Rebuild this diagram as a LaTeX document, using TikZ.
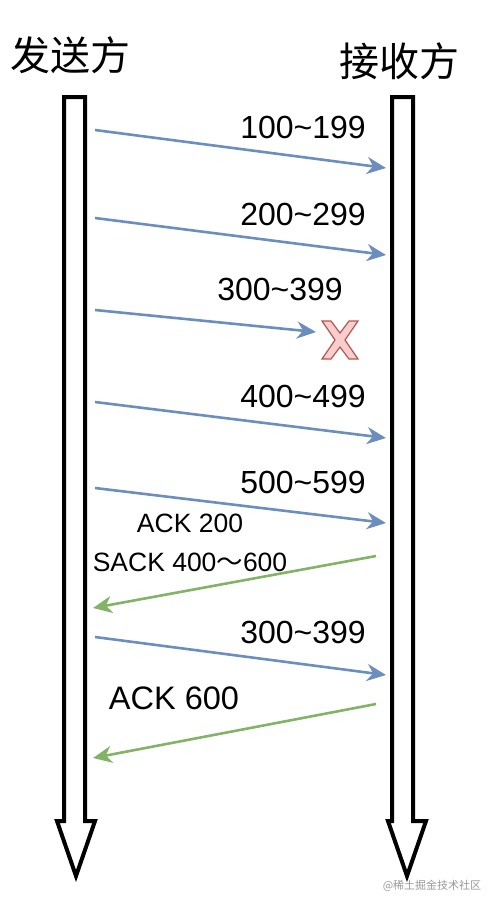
\documentclass[tikz,border=0pt]{standalone}
\usepackage{fontspec}
\setmainfont{Liberation Sans}
\newfontfamily\cjk{Noto Sans CJK SC}
\usetikzlibrary{arrows.meta}
\definecolor{dataline}{HTML}{6C8EBF}
\definecolor{ackline}{HTML}{82B366}
\definecolor{lostfill}{HTML}{F8CECC}
\definecolor{lostline}{HTML}{B85450}
\newcommand{\seg}[2]{#1\textasciitilde#2}

\begin{document}
\begin{tikzpicture}[x=1pt,y=-1pt,
	lifeline/.style={draw=black,line width=4pt,fill=white,line join=miter},
	data/.style={draw=dataline,line width=2.6pt,-{Stealth[length=19pt,width=17pt,inset=6pt]}},
	ack/.style={draw=ackline,line width=2.6pt,-{Stealth[length=19pt,width=17pt,inset=6pt]}},
	seglabel/.style={font=\fontsize{32}{38}\selectfont,inner sep=0pt},
	acklabel/.style={font=\fontsize{26.5}{32}\selectfont,inner sep=0pt}]
			\useasboundingbox (0,0) rectangle (494,908);
			% the two parties
			\node (sender) at (70,55) {\cjk\fontsize{40}{46}\selectfont 发送方};
			\node (receiver) at (399,61) {\cjk\fontsize{40}{46}\selectfont 接收方};
			% hollow time arrows
			\draw[lifeline] (64,97) -- (85,97) -- (85,821) -- (95,821) -- (76,876) -- (57,821) -- (64,821) -- cycle;
			\draw[lifeline] (392,97) -- (413,97) -- (413,821) -- (426,821) -- (407,876) -- (388,821) -- (392,821) -- cycle;
			% ends of the messages
			\coordinate (s1) at (95,130);  \coordinate (r1) at (386,168);
			\coordinate (s2) at (95,218);  \coordinate (r2) at (386,255);
			\coordinate (s3) at (95,310);  \coordinate (r3) at (316,332);
			\coordinate (s4) at (95,402);  \coordinate (r4) at (386,438);
			\coordinate (s5) at (95,488);  \coordinate (r5) at (386,523);
			\coordinate (r6) at (376,556); \coordinate (s6) at (93,608);
			\coordinate (s7) at (95,637);  \coordinate (r7) at (386,675);
			\coordinate (r8) at (376,704); \coordinate (s8) at (93,758);
			% segments sent
			\draw[data] (s1) -- (r1);
			\node[seglabel] (l1) at (303,127) {\seg{100}{199}};
			\draw[data] (s2) -- (r2);
			\node[seglabel] (l2) at (303,214) {\seg{200}{299}};
			\draw[data] (s3) -- (r3);
			\node[seglabel] (l3) at (280,289) {\seg{300}{399}};
			% the lost segment
			\draw[fill=lostfill,draw=lostline,line width=1.2pt,line join=miter]
				(322,321) -- (331,321) -- (340,333) -- (349,321) -- (358,321) -- (345,340) -- (358,359)
				-- (349,359) -- (340,347) -- (331,359) -- (322,359) -- (335,340) -- cycle;
			\draw[data] (s4) -- (r4);
			\node[seglabel] (l4) at (303,396) {\seg{400}{499}};
			\draw[data] (s5) -- (r5);
			\node[seglabel] (l5) at (303,482) {\seg{500}{599}};
			% selective ack
			\draw[ack] (r6) -- (s6);
			\node[acklabel] (a1) at (190,523) {ACK 200};
			\node[acklabel] (a2) at (190,562) {SACK 400{\cjk ～}600};
			% retransmission
			\draw[data] (s7) -- (r7);
			\node[seglabel] (l7) at (303,632) {\seg{300}{399}};
			\draw[ack] (r8) -- (s8);
			\node[acklabel,font=\fontsize{32.5}{38}\selectfont] (a3) at (174,698) {ACK 600};
			% watermark
			\node[text=black!40,inner sep=0pt] (mark) at (432,886) {\cjk\fontsize{11}{13}\selectfont @稀土掘金技术社区};
		\end{tikzpicture}
\end{document}
